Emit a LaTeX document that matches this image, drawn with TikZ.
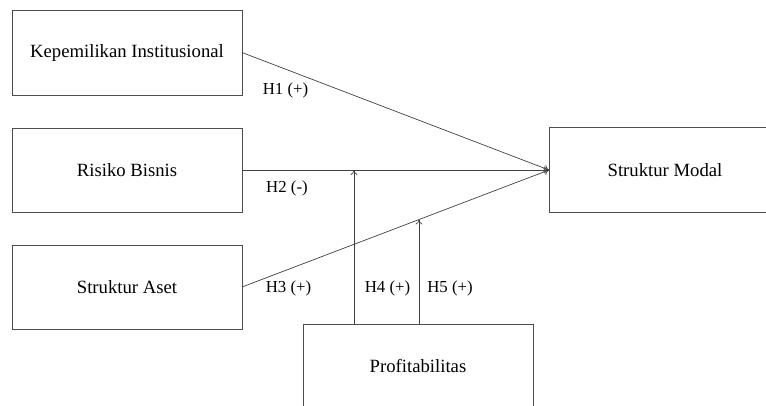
\documentclass[tikz,border=0pt]{standalone}
\usepackage{fontspec}
\setmainfont{Liberation Serif}
\usetikzlibrary{arrows.meta}
\begin{document}
\begin{tikzpicture}[x=1pt,y=-1pt,
  box/.style={draw=black!70,line width=0.9pt},
  boxtext/.style={font=\fontsize{18.7}{20}\selectfont,text=black,inner sep=0pt},
  lbl/.style={font=\fontsize{16.8}{18}\selectfont,text=black,inner sep=0pt},
  link/.style={draw=black!75,line width=0.7pt,-{To[length=5pt,width=7pt]}}]
\useasboundingbox (0,0) rectangle (766,405);
\begin{scope}
\clip (0,0) rectangle (766,405);
\draw[box] (12,10) rectangle (242,95);
\draw[box] (12,128) rectangle (242,212);
\draw[box] (12,245) rectangle (242,329);
\draw[box] (549,127) rectangle (780,212);
\draw[box] (303,324) rectangle (533,420);
\end{scope}
\node[boxtext] (ki) at (127,52.5) {Kepemilikan Institusional};
\node[boxtext] (rb) at (127,170) {Risiko Bisnis};
\node[boxtext] (sa) at (127,287) {Struktur Aset};
\node[boxtext] (sm) at (665,170) {Struktur Modal};
\node[boxtext] (pr) at (418,366) {Profitabilitas};
\coordinate (kiE) at (242,52.5);
\coordinate (rbE) at (242,170);
\coordinate (saE) at (242,287);
\coordinate (smW) at (549,170);
\coordinate (p1) at (354,324);
\coordinate (p2) at (419,324);
\coordinate (t1) at (354,170);
\coordinate (t2) at (419,219.5);
\draw[link] (kiE) -- (smW);
\draw[link] (rbE) -- (smW);
\draw[link] (saE) -- (smW);
\draw[link] (p1) -- (t1);
\draw[link] (p2) -- (t2);
\node[lbl] (h1) at (285.5,90) {H1 (+)};
\node[lbl] (h2) at (287,188) {H2 (-)};
\node[lbl] (h3) at (288.5,288) {H3 (+)};
\node[lbl] (h4) at (387.5,288) {H4 (+)};
\node[lbl] (h5) at (450,288) {H5 (+)};
\end{tikzpicture}
\end{document}
